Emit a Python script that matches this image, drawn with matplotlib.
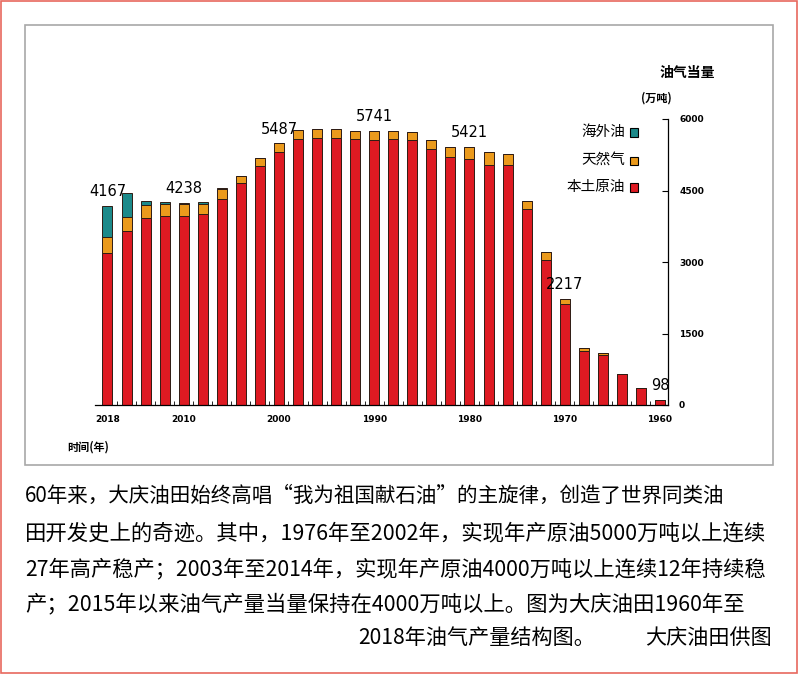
import matplotlib.pyplot as plt
from matplotlib.patches import Rectangle

plt.rcParams['font.family'] = ['Noto Sans CJK SC', 'DejaVu Sans']

# 年份（每两年一根柱子）
years = list(range(1960, 2019, 2))
# 本土原油（万吨）
crude = [98, 355, 640, 1049, 1140, 2119, 3042, 4112, 5035, 5035,
         5154, 5196, 5371, 5567, 5580, 5560, 5580, 5601, 5601, 5580,
         5308, 5014, 4650, 4329, 4007, 3972, 3958, 3923, 3651, 3196]
# 天然气（万吨油当量）
gas = [0, 8, 10, 35, 49, 98, 160, 175, 224, 273,
       267, 217, 196, 168, 168, 181, 168, 196, 196, 182,
       179, 161, 154, 196, 210, 238, 266, 266, 300, 336]
# 海外油
overseas = [0, 0, 0, 0, 0, 0, 0, 0, 0, 0,
            0, 0, 0, 0, 0, 0, 0, 0, 0, 0,
            0, 0, 0, 35, 49, 28, 42, 91, 490, 635]

label_years = [2018, 2010, 2000, 1990, 1980, 1970, 1960]
label_values = [4167, 4238, 5487, 5741, 5421, 2217, 98]

xtick_years = [2018, 2010, 2000, 1990, 1980, 1970, 1960]
yticks = [0, 1500, 3000, 4500, 6000]

legend_names = ['海外油', '天然气', '本土原油']
c_red = '#de1a22'
c_orange = '#eb9a1c'
c_teal = '#1c8a8a'
legend_colors = [c_teal, c_orange, c_red]

paragraph = [
    '60年来，大庆油田始终高唱“我为祖国献石油”的主旋律，创造了世界同类油',
    '田开发史上的奇迹。其中，1976年至2002年，实现年产原油5000万吨以上连续',
    '27年高产稳产；2003年至2014年，实现年产原油4000万吨以上连续12年持续稳',
    '产；2015年以来油气产量当量保持在4000万吨以上。图为大庆油田1960年至',
]
caption = '2018年油气产量结构图。'
credit = '大庆油田供图'

W, H = 800, 675
fig = plt.figure(figsize=(W / 100, H / 100), dpi=100)


def fx(x):
    return x / W


def fy(y):
    return 1 - y / H


# 外框
fig.patches.append(Rectangle((fx(1), fy(673)), fx(797) - fx(1), fy(1) - fy(673),
                             transform=fig.transFigure, fill=False,
                             edgecolor='#e8685e', linewidth=1.2))
fig.patches.append(Rectangle((fx(24.5), fy(465)), fx(773) - fx(24.5), fy(24.5) - fy(465),
                             transform=fig.transFigure, fill=False,
                             edgecolor='#a8a8a8', linewidth=1.2))

ax = fig.add_axes([fx(95), fy(405), fx(668) - fx(95), fy(119) - fy(405)])
bw = 1.05
ax.bar(years, crude, width=bw, color=c_red, edgecolor='#2e1c14', linewidth=0.7)
bottom2 = [c + g for c, g in zip(crude, gas)]
ax.bar(years, gas, width=bw, bottom=crude, color=c_orange, edgecolor='#2e1c14', linewidth=0.7)
ax.bar(years, overseas, width=bw, bottom=bottom2, color=c_teal, edgecolor='#2e1c14', linewidth=0.7)

for yr, v in zip(label_years, label_values):
    ax.annotate(str(v), (yr, v), xytext=(0, 5), textcoords='offset points',
                ha='center', va='bottom', fontsize=10.5, family='DejaVu Sans',
                annotation_clip=False)

ax.set_xlim(2019.31, 1959.16)
ax.set_ylim(0, 6000)
ax.spines['top'].set_visible(False)
ax.spines['left'].set_visible(False)
ax.spines['right'].set_bounds(0, 6000)
ax.spines['right'].set_linewidth(0.9)
ax.spines['bottom'].set_linewidth(0.9)
ax.yaxis.tick_right()
ax.set_yticks(yticks)
ax.set_yticklabels([str(t) for t in yticks], fontsize=6.5, fontweight='bold',
                   family='DejaVu Sans')
ax.tick_params(axis='y', direction='in', length=4, pad=8)
ax.set_xticks(xtick_years)
ax.set_xticklabels([str(t) for t in xtick_years], fontsize=6.5, fontweight='bold',
                   family='DejaVu Sans')
ax.set_xticks(list(range(1961, 2019, 2)), minor=True)
ax.tick_params(axis='x', which='major', direction='in', length=0, pad=7)
ax.tick_params(axis='x', which='minor', direction='in', length=3)

# 轴标题
fig.text(fx(687), fy(73), '油气当量', ha='center', va='center', fontsize=10, fontweight='bold')
fig.text(fx(656), fy(98), '(万吨)', ha='center', va='center', fontsize=8, fontweight='bold')
fig.text(fx(88), fy(447), '时间(年)', ha='center', va='center', fontsize=8, fontweight='bold')

# 图例
for i, (name, col) in enumerate(zip(legend_names, legend_colors)):
    yy = [132, 160, 187][i]
    fig.patches.append(Rectangle((fx(630), fy(yy + 4.5)), fx(8), 8 / H,
                                 transform=fig.transFigure, facecolor=col,
                                 edgecolor='black', linewidth=0.8))
    fig.text(fx(625), fy(yy), name, ha='right', va='center', fontsize=10.5)

# 说明文字
line_y = [496, 533, 569, 604]
sizes = [14.8, 15.4, 15.3, 15.4]
for y, line, s in zip(line_y, paragraph, sizes):
    fig.text(fx(25), fy(y), line, ha='left', va='center', fontsize=s)
fig.text(fx(358), fy(638), caption, ha='left', va='center', fontsize=15.2)
fig.text(fx(772), fy(638), credit, ha='right', va='center', fontsize=15.2)

fig.savefig('out.png', dpi=100)
